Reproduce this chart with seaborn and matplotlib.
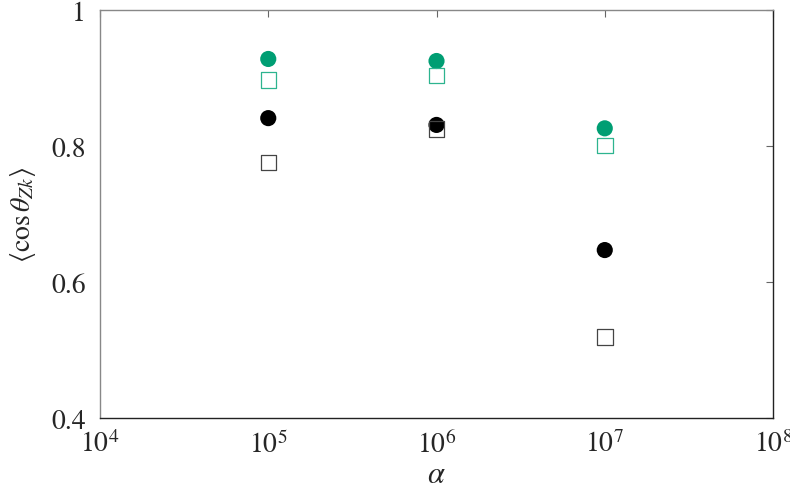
import numpy as np
import pandas as pd
import matplotlib
matplotlib.use('Agg')
import matplotlib.pyplot as plt
import seaborn as sns

# values
alpha = [1e5, 1e6, 1e7]
green_circle = [0.928, 0.925, 0.826]
green_square = [0.897, 0.904, 0.801]
black_circle = [0.841, 0.831, 0.647]
black_square = [0.776, 0.825, 0.519]

x_ticks = [1e4, 1e5, 1e6, 1e7, 1e8]
x_tick_labels = [r'$10^{4}$', r'$10^{5}$', r'$10^{6}$', r'$10^{7}$', r'$10^{8}$']
y_ticks = [0.4, 0.6, 0.8, 1.0]
y_tick_labels = ['0.4', '0.6', '0.8', '1']

sns.set_style('white')
plt.rcParams['font.family'] = ['STIXGeneral', 'DejaVu Serif']
plt.rcParams['mathtext.fontset'] = 'stix'

df = pd.DataFrame({
    'alpha': alpha * 4,
    'cos': green_circle + green_square + black_circle + black_square,
    'series': ['gc'] * 3 + ['gs'] * 3 + ['bc'] * 3 + ['bs'] * 3,
})

fig = plt.figure(figsize=(7.9, 4.89), dpi=100)
ax = fig.add_axes([0.1266, 0.1431, 0.8519, 0.8344])

styles = {
    'gc': dict(marker='o', color='#009e73', edgecolor='none', s=135),
    'gs': dict(marker='s', facecolor='none', edgecolor='#2db48f', linewidth=0.9, s=125),
    'bc': dict(marker='o', color='black', edgecolor='none', s=135),
    'bs': dict(marker='s', facecolor='none', edgecolor='#444444', linewidth=0.9, s=125),
}
for name, kw in styles.items():
    sub = df[df['series'] == name]
    sns.scatterplot(data=sub, x='alpha', y='cos', ax=ax, legend=False, zorder=3, **kw)

ax.set_xscale('log')
ax.set_xlim(1e4, 1e8)
ax.set_ylim(0.4, 1.0)
ax.set_xticks(x_ticks)
ax.set_xticklabels(x_tick_labels)
ax.set_yticks(y_ticks)
ax.set_yticklabels(y_tick_labels)
ax.minorticks_off()
ax.tick_params(direction='in', length=5, width=0.8, color='#666666',
               labelsize=20, top=True, right=True, pad=10)
ax.tick_params(axis='x', pad=9)
for side in ['left', 'top']:
    ax.spines[side].set_color('#888888')
for side in ['bottom', 'right']:
    ax.spines[side].set_color('#222222')
for sp in ax.spines.values():
    sp.set_linewidth(1.0)

ax.set_xlabel(r'$\alpha$', fontsize=22, labelpad=2)
ax.set_ylabel(r'$\langle \cos\theta_{Zk} \rangle$', fontsize=20, labelpad=10)

fig.savefig('out.png', dpi=100)
